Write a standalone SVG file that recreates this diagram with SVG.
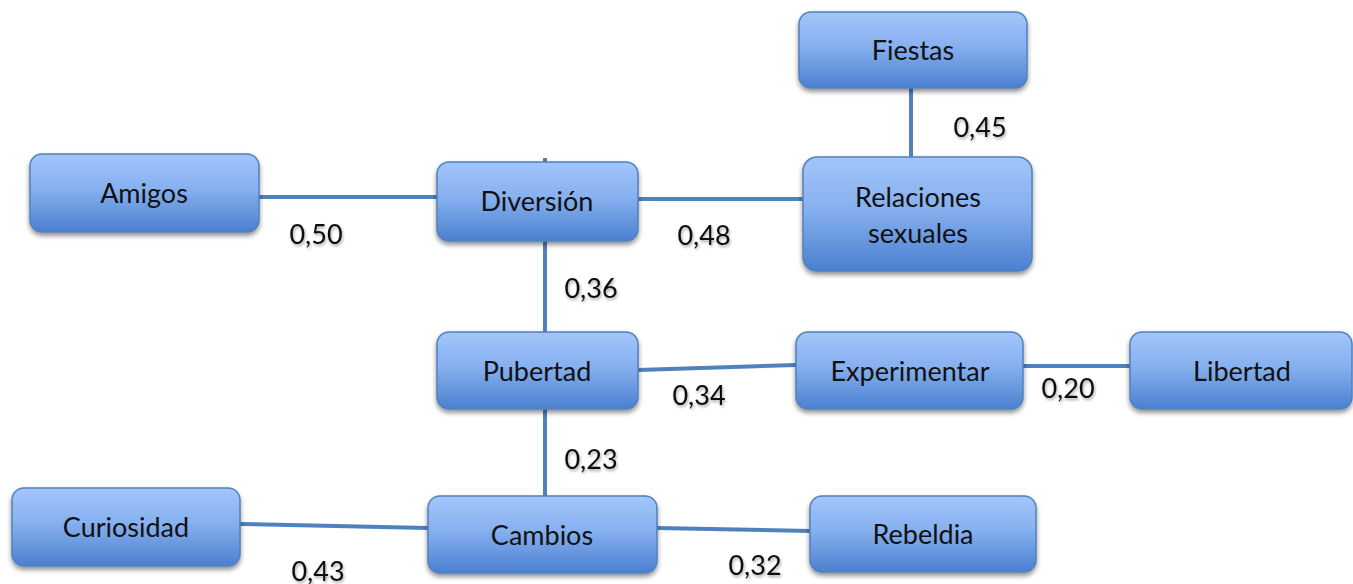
<svg xmlns="http://www.w3.org/2000/svg" width="1353" height="584" viewBox="0 0 1353 584">
<defs>
<linearGradient id="g" x1="0" y1="0" x2="0" y2="1">
<stop offset="0" stop-color="#a3c5fb"/>
<stop offset="0.45" stop-color="#86b0ef"/>
<stop offset="1" stop-color="#4b80cf"/>
</linearGradient>
<filter id="sh" x="-10%" y="-10%" width="120%" height="130%">
<feGaussianBlur in="SourceAlpha" stdDeviation="2.5"/>
<feOffset dx="0" dy="3" result="b"/>
<feComponentTransfer><feFuncA type="linear" slope="0.45"/></feComponentTransfer>
<feMerge><feMergeNode/><feMergeNode in="SourceGraphic"/></feMerge>
</filter>
<filter id="ts" x="-10%" y="-10%" width="120%" height="140%">
<feGaussianBlur in="SourceAlpha" stdDeviation="1.5"/>
<feOffset dx="1" dy="2" result="b"/>
<feComponentTransfer><feFuncA type="linear" slope="0.35"/></feComponentTransfer>
<feMerge><feMergeNode/><feMergeNode in="SourceGraphic"/></feMerge>
</filter>
</defs>
<style>
.n rect{fill:url(#g);stroke:#4f81bd;stroke-width:1.5;filter:url(#sh)}
.n text{font-family:Lato,"Open Sans",sans-serif;font-size:27px;fill:#111;text-anchor:middle}
.e line{stroke:#4f81bd;stroke-width:4}
.l text{font-family:Lato,"Open Sans",sans-serif;font-size:27px;fill:#111;text-anchor:middle;filter:url(#ts)}
</style>
<rect width="1353" height="584" fill="#fff"/>
<g class="e" id="connectors">
<line x1="259" y1="197" x2="437" y2="197"/>
<line x1="638" y1="199" x2="803" y2="199"/>
<line x1="911" y1="88" x2="911" y2="157"/>
<line x1="545" y1="158" x2="545" y2="332"/>
<line x1="638" y1="370" x2="796" y2="365"/>
<line x1="1023" y1="366" x2="1130" y2="366"/>
<line x1="545" y1="409" x2="545" y2="496"/>
<line x1="240" y1="524" x2="428" y2="528"/>
<line x1="657" y1="528" x2="810" y2="531"/>
</g>
<g class="n" id="fiestas"><rect x="799" y="12" width="228" height="76" rx="12"/><text x="913" y="60">Fiestas</text></g>
<g class="n" id="amigos"><rect x="30" y="154" width="229" height="78" rx="12"/><text x="144" y="203">Amigos</text></g>
<g class="n" id="diversion"><rect x="437" y="162" width="201" height="79" rx="12"/><text x="537" y="211">Diversión</text></g>
<g class="n" id="relaciones"><rect x="803" y="157" width="229" height="114" rx="14"/><text x="918" y="207">Relaciones</text><text x="918" y="243">sexuales</text></g>
<g class="n" id="pubertad"><rect x="437" y="332" width="201" height="77" rx="12"/><text x="537" y="381">Pubertad</text></g>
<g class="n" id="experimentar"><rect x="796" y="332" width="227" height="77" rx="12"/><text x="910" y="381">Experimentar</text></g>
<g class="n" id="libertad"><rect x="1130" y="332" width="222" height="77" rx="12"/><text x="1242" y="381">Libertad</text></g>
<g class="n" id="curiosidad"><rect x="12" y="488" width="228" height="78" rx="12"/><text x="126" y="537">Curiosidad</text></g>
<g class="n" id="cambios"><rect x="428" y="496" width="229" height="77" rx="12"/><text x="542" y="545">Cambios</text></g>
<g class="n" id="rebeldia"><rect x="810" y="496" width="226" height="76" rx="12"/><text x="923" y="544">Rebeldia</text></g>
<g class="l" id="labels">
<text x="316" y="244">0,50</text>
<text x="704" y="245">0,48</text>
<text x="980" y="137">0,45</text>
<text x="591" y="298">0,36</text>
<text x="699" y="405">0,34</text>
<text x="1068" y="398">0,20</text>
<text x="591" y="469">0,23</text>
<text x="318" y="581">0,43</text>
<text x="755" y="575">0,32</text>
</g>
</svg>
